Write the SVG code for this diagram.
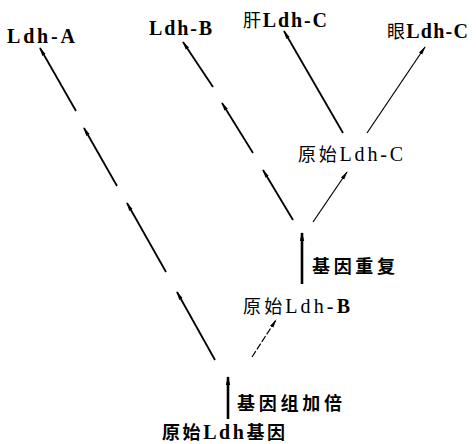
<svg xmlns="http://www.w3.org/2000/svg" width="476" height="444" viewBox="0 0 476 444">
<style>
.lbl{font-family:"Liberation Serif","Noto Sans CJK SC",serif;font-size:20px;fill:#000}
.cj{font-size:18px}
.b{font-weight:bold}
.ln{stroke:#000;stroke-width:1.8;fill:none;marker-end:url(#ah)}
.thin{stroke:#000;stroke-width:1.2;fill:none;marker-end:url(#ah)}
.vt{stroke:#000;stroke-width:2.6;fill:none;marker-end:url(#av)}
</style>
<defs>
<marker id="ah" markerUnits="userSpaceOnUse" markerWidth="10" markerHeight="5" refX="8" refY="2.5" orient="auto">
<path d="M0,0.6 L9,2.5 L0,4.4 Z" fill="#000"/>
</marker>
<marker id="av" markerUnits="userSpaceOnUse" markerWidth="10" markerHeight="5" refX="8" refY="2.5" orient="auto">
<path d="M0,0.3 L9,2.5 L0,4.7 Z" fill="#000"/>
</marker>
</defs>
<rect width="476" height="444" fill="#fff"/>
<g id="connectors">
<line class="ln" x1="76" y1="111" x2="40" y2="48"/>
<line class="ln" x1="117" y1="186" x2="84" y2="128"/>
<line class="ln" x1="166" y1="272" x2="127" y2="203"/>
<line class="ln" x1="215" y1="360" x2="177" y2="292"/>
<line class="ln" x1="213" y1="87" x2="183" y2="42"/>
<line class="ln" x1="253" y1="153" x2="222" y2="103"/>
<line class="ln" x1="293" y1="220" x2="263" y2="170"/>
<line class="ln" x1="343" y1="133" x2="284" y2="31"/>
<line class="thin" x1="367" y1="133" x2="425" y2="47"/>
<line class="thin" x1="313" y1="222" x2="347" y2="172"/>
<line class="thin" x1="252" y1="357" x2="276" y2="320" stroke-dasharray="7 2"/>
<line class="vt" x1="302" y1="284" x2="302" y2="233"/>
<line class="vt" x1="228" y1="419" x2="228" y2="377"/>
</g>
<g id="ldh-a"><text class="lbl b" x="7" y="43" textLength="68" lengthAdjust="spacing">Ldh-A</text></g>
<g id="ldh-b"><text class="lbl b" x="149" y="35" textLength="63" lengthAdjust="spacing">Ldh-B</text></g>
<g id="gan-ldh-c"><text class="lbl" x="243" y="27" textLength="84" lengthAdjust="spacing"><tspan class="cj">肝</tspan><tspan font-weight="bold">Ldh-C</tspan></text></g>
<g id="yan-ldh-c"><text class="lbl" x="387" y="38" textLength="81" lengthAdjust="spacing"><tspan class="cj">眼</tspan><tspan font-weight="bold">Ldh-C</tspan></text></g>
<g id="yuanshi-ldh-c"><text class="lbl" x="298" y="161" textLength="105" lengthAdjust="spacing"><tspan class="cj">原始</tspan>Ldh-C</text></g>
<g id="jiyin-chongfu"><text class="lbl b cj" x="312" y="273" textLength="83" lengthAdjust="spacing">基因重复</text></g>
<g id="yuanshi-ldh-b"><text class="lbl" x="243" y="313" textLength="107" lengthAdjust="spacing"><tspan class="cj">原始</tspan>Ldh-<tspan font-weight="bold">B</tspan></text></g>
<g id="jiyinzu-jiabei"><text class="lbl b cj" x="237" y="410" textLength="105" lengthAdjust="spacing">基因组加倍</text></g>
<g id="yuanshi-ldh-jiyin"><text class="lbl b" x="162" y="439" textLength="123" lengthAdjust="spacing"><tspan class="cj">原始</tspan>Ldh<tspan class="cj">基因</tspan></text></g>
</svg>
